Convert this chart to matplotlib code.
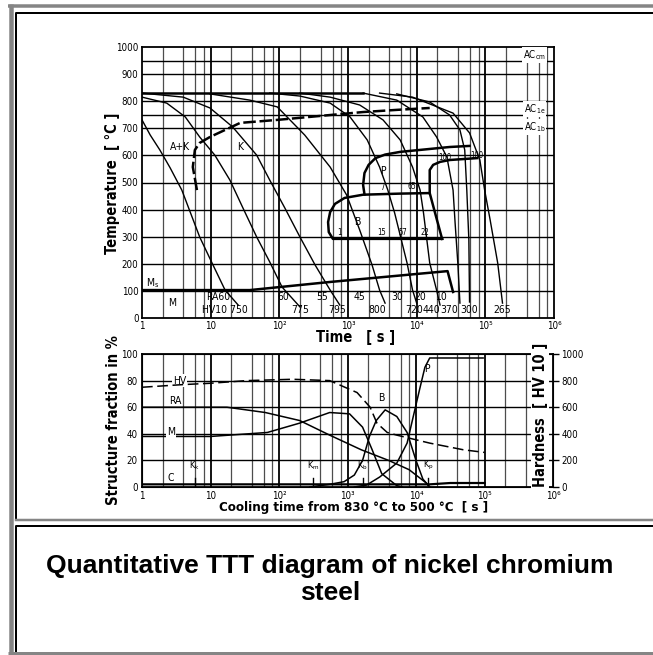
import numpy as np
import matplotlib
matplotlib.use('Agg')
import matplotlib.pyplot as plt
from matplotlib import font_manager as fm

# pick a condensed face if one is installed (the scan uses a narrow DIN-like type)
_names = {f.name for f in fm.fontManager.ttflist}
_dejavu_cond = any(f.name == 'DejaVu Sans' and 'Condensed' in f.fname for f in fm.fontManager.ttflist)
if 'Liberation Sans Narrow' in _names:
    narrow, stretch, tick_fs = ['Liberation Sans Narrow', 'DejaVu Sans'], 'normal', 8
elif _dejavu_cond:
    narrow, stretch, tick_fs = ['DejaVu Sans'], 'condensed', 7
else:
    narrow, stretch, tick_fs = ['Liberation Sans', 'DejaVu Sans'], 'normal', 7
plt.rcParams['font.family'] = narrow
plt.rcParams['font.stretch'] = stretch

# ---- upper diagram: cooling curves (log10 of time in s, temperature in C) ----
c1_logt = [0, 0.12, 0.26, 0.41, 0.58, 0.84, 1.02, 1.21, 1.40]
c1_temp = [731, 675, 620, 554, 472, 299, 203, 103, 48]
c2_logt = [0, 0.36, 0.63, 0.84, 1.06, 1.28, 1.47, 1.67, 1.86, 2.04, 2.30]
c2_temp = [815, 793, 742, 668, 601, 509, 406, 299, 207, 114, 41]
c3_logt = [0, 0.12, 0.60, 0.99, 1.32, 1.67, 1.86, 2.08, 2.30, 2.52, 2.74, 2.88]
c3_temp = [830, 827, 815, 775, 705, 601, 509, 406, 299, 196, 103, 48]
c4_logt = [0.99, 1.57, 1.97, 2.37, 2.74, 2.98, 3.17, 3.35, 3.46, 3.54]
c4_temp = [827, 804, 779, 675, 557, 454, 325, 196, 103, 55]
c5_logt = [1.86, 2.30, 2.74, 3.03, 3.28, 3.46, 3.58, 3.68, 3.86, 3.94, 4.00]
c5_temp = [830, 819, 793, 742, 657, 557, 472, 387, 203, 103, 55]
c6_logt = [2.30, 2.74, 3.17, 3.51, 3.76, 3.94, 4.05, 4.10, 4.19, 4.29, 4.34]
c6_temp = [830, 815, 786, 731, 657, 557, 472, 387, 203, 103, 48]
c7_logt = [3.22, 3.71, 4.09, 4.29, 4.44, 4.53, 4.56, 4.60, 4.63]
c7_temp = [830, 804, 742, 668, 594, 472, 350, 200, 55]
c8_logt = [3.71, 4.19, 4.48, 4.63, 4.70, 4.73, 4.76, 4.77]
c8_temp = [827, 797, 749, 694, 620, 472, 288, 59]
c9_logt = [3.46, 3.94, 4.53, 4.77, 4.92, 4.99, 5.07, 5.18, 5.25]
c9_temp = [830, 815, 756, 683, 583, 472, 362, 203, 55]

# austenitizing plateau
plateau_logt = [0, 3.22]
plateau_temp = [830, 830]

# ferrite / carbide start (dashed)
fs_logt = [0.80, 0.74, 0.77, 0.84, 0.99, 1.43, 1.97, 2.74, 3.22, 3.71, 4.19]
fs_temp = [472, 557, 620, 646, 668, 720, 731, 749, 760, 768, 775]

# bainite field
b_logt = [4.37, 2.78, 2.72, 2.71, 2.74, 2.81, 2.95, 3.22, 3.76, 4.19, 4.37]
b_temp = [292, 292, 317, 354, 391, 421, 443, 455, 459, 461, 292]

# pearlite start / finish
ps_logt = [3.24, 3.22, 3.24, 3.30, 3.40, 3.54, 3.76, 4.48, 4.77]
ps_temp = [456, 491, 535, 565, 590, 603, 613, 631, 635]
pf_logt = [4.19, 4.19, 4.24, 4.34, 4.48, 4.88]
pf_temp = [461, 546, 565, 576, 583, 590]

# martensite start
ms_logt = [0, 1.57, 2.74, 4.45, 4.53]
ms_temp = [103, 103, 133, 173, 96]

ra_labels = ['RA60', '60', '55', '45', '30', '20', '10']
ra_logt = [1.11, 2.05, 2.63, 3.16, 3.71, 4.05, 4.35]
hv_labels = ['HV10 750', '775', '795', '800', '720', '440', '370', '300', '265']
hv_label_logt = [1.20, 2.30, 2.84, 3.42, 3.96, 4.22, 4.48, 4.77, 5.25]
bain_pct = ['1', '15', '57', '22']
bain_pct_logt = [2.88, 3.49, 3.80, 4.12]
pear_pct = ['7', '65', '100', '100']
pear_pct_logt = [3.51, 3.93, 4.41, 4.88]
pear_pct_temp = [480, 487, 594, 601]

# ---- lower diagram: structure fractions (%) and hardness (HV) ----
hv_logt = [0, 0.6, 1.0, 1.53, 2.2, 2.74, 3.14, 3.33, 3.43, 3.58, 3.72, 4.2, 4.69, 5.0]
hv_vals = [750, 770, 780, 800, 810, 800, 710, 600, 480, 410, 390, 330, 280, 260]
ra_frac_logt = [0, 1.24, 1.8, 2.3, 2.74, 3.2, 3.6, 3.9, 4.15, 4.2]
ra_frac = [60, 60, 56, 50, 39, 28, 20, 13, 3, 0]
m_logt = [0, 1.0, 1.83, 2.3, 2.74, 3.03, 3.22, 3.36, 3.5, 3.72, 3.8]
m_frac = [38, 38, 41, 48, 56, 55, 45, 28, 10, 1, 0]
b_frac_logt = [2.45, 2.74, 2.95, 3.1, 3.22, 3.32, 3.42, 3.55, 3.72, 3.87, 4.0, 4.1, 4.2]
b_frac = [0, 2, 4, 9, 20, 38, 50, 58, 53, 41, 20, 6, 0]
p_logt = [3.1, 3.28, 3.47, 3.72, 3.87, 3.96, 4.06, 4.13, 4.2, 4.98]
p_frac = [0, 1.5, 7.5, 18, 33, 53, 75, 90, 97, 97]
c_logt = [0, 4.2, 4.5, 5.0]
c_frac = [2, 2, 3, 3]
k_names = ['K$_\\mathregular{k}$', 'K$_\\mathregular{m}$', "K$_\\mathregular{b}$'", 'K$_\\mathregular{p}$']
k_logt = [0.77, 2.5, 3.23, 4.18]

decade_labels = ['1', '10', '10²', '10³', '10⁴', '10⁵', '10⁶']

W, H = 653, 655
px = 72 / 100


def fbox(l, t, r, b):
    return [l / W, 1 - b / H, (r - l) / W, (b - t) / H]


def tt(v):
    return np.power(10.0, np.asarray(v, dtype=float))


def log_grid(a):
    for d in range(6):
        for m in (2, 4, 6, 8):
            a.axvline(m * 10 ** d, color='0.3', lw=0.9, zorder=1)
    for d in range(1, 6):
        a.axvline(10 ** d, color='black', lw=1.3, zorder=1)


fig = plt.figure(figsize=(6.53, 6.55), dpi=100)

# page frame
bg = fig.add_axes([0, 0, 1, 1])
bg.set_xlim(0, W)
bg.set_ylim(H, 0)
bg.axis('off')
gray = '#858585'
bg.plot([10.5, 10.5], [3.5, 654], color=gray, lw=4.5 * px, solid_capstyle='butt')
bg.plot([8, 653], [5.5, 5.5], color=gray, lw=3.5 * px, solid_capstyle='butt')
bg.plot([8, 653], [652.5, 652.5], color=gray, lw=3 * px, solid_capstyle='butt')
bg.plot([16, 16, 653], [519, 12.5, 12.5], color='black', lw=2 * px)
bg.plot([16, 653], [519.5, 519.5], color=gray, lw=2.5 * px)
bg.plot([16, 16, 653], [651, 525.5, 525.5], color='black', lw=2 * px)

# ---------------- upper diagram ----------------
ax = fig.add_axes(fbox(142, 47, 554, 318))
ax.set_xscale('log')
ax.set_xlim(1, 1e6)
ax.set_ylim(0, 1000)
log_grid(ax)
for T in list(range(100, 1000, 100)) + [950, 750]:
    ax.axhline(T, color='black', lw=1.0, zorder=1)
ax.set_xticks(tt(range(7)))
ax.set_xticklabels(decade_labels)
ax.minorticks_off()
ax.set_yticks(range(0, 1001, 100))
ax.tick_params(length=0, labelsize=tick_fs, pad=2.5)
for s in ax.spines.values():
    s.set_linewidth(1.3)

for lg, tp in [(c1_logt, c1_temp), (c2_logt, c2_temp), (c3_logt, c3_temp),
               (c4_logt, c4_temp), (c5_logt, c5_temp), (c6_logt, c6_temp),
               (c7_logt, c7_temp), (c8_logt, c8_temp), (c9_logt, c9_temp)]:
    ax.plot(tt(lg), tp, color='black', lw=1.0, zorder=3)

ax.plot(tt(plateau_logt), plateau_temp, color='black', lw=1.8, zorder=3)
ax.plot(tt(fs_logt), fs_temp, color='black', lw=1.8, ls=(0, (5, 1.5)), zorder=3)
ax.plot(tt(b_logt), b_temp, color='black', lw=1.8, zorder=3)
ax.plot(tt(ps_logt), ps_temp, color='black', lw=1.8, zorder=3)
ax.plot(tt(pf_logt), pf_temp, color='black', lw=1.8, zorder=3)
ax.plot(tt(ms_logt), ms_temp, color='black', lw=1.8, zorder=3)

fs = 7.5
ax.text(tt(0.55), 631, 'A+K', fontsize=fs, ha='center', va='center')
ax.text(tt(1.43), 631, 'K', fontsize=fs, ha='center', va='center')
ax.text(tt(3.51), 542, 'P', fontsize=fs, ha='center', va='center')
ax.text(tt(3.13), 354, 'B', fontsize=fs, ha='center', va='center')
ax.text(tt(0.44), 55, 'M', fontsize=fs, ha='center', va='center')
ax.text(tt(0.16), 129, 'M$_\\mathregular{s}$', fontsize=fs, ha='center', va='center')
for lab, lg in zip(ra_labels, ra_logt):
    ax.text(tt(lg), 77, lab, fontsize=fs, ha='center', va='center')
for lab, lg in zip(hv_labels, hv_label_logt):
    ax.text(tt(lg), 30, lab, fontsize=fs, ha='center', va='center')
for lab, lg in zip(bain_pct, bain_pct_logt):
    ax.text(tt(lg), 314, lab, fontsize=5.5, ha='center', va='center')
for lab, lg, tp in zip(pear_pct, pear_pct_logt, pear_pct_temp):
    ax.text(tt(lg), tp, lab, fontsize=5.5, ha='center', va='center')
for lab, tp in [('AC$_\\mathregular{cm}$', 970), ('AC$_\\mathregular{1e}$', 771),
                ('AC$_\\mathregular{1b}$', 705)]:
    ax.text(tt(5.72), tp, lab, fontsize=7, ha='center', va='center', zorder=4,
            bbox=dict(facecolor='white', edgecolor='none', pad=0.6))

fig.text(113 / W, 1 - 183 / H, 'Temperature  [ °C ]', rotation=90, fontsize=10.5,
         fontweight='bold', ha='center', va='center')
fig.text(356 / W, 1 - 338 / H, 'Time   [ s ]', fontsize=10.5, fontweight='bold',
         ha='center', va='center')

# ---------------- lower diagram ----------------
bx = fig.add_axes(fbox(142, 354, 553, 487))
bx.set_xscale('log')
bx.set_xlim(1, 1e6)
bx.set_ylim(0, 100)
log_grid(bx)
for p in [20, 40, 60, 80]:
    bx.axhline(p, color='black', lw=1.0, zorder=1)
bx.set_xticks(tt(range(7)))
bx.set_xticklabels(decade_labels)
bx.minorticks_off()
bx.set_yticks(range(0, 101, 20))
bx.tick_params(length=0, labelsize=tick_fs, pad=3)
for s in bx.spines.values():
    s.set_linewidth(1.3)

hx = bx.twinx()
hx.set_ylim(0, 1000)
hx.set_yticks(range(0, 1001, 200))
hx.tick_params(length=4, width=1.0, labelsize=tick_fs, pad=2)
hx.set_xlim(1, 1e6)

hx.plot(tt(hv_logt), hv_vals, color='black', lw=1.1, ls=(0, (7, 3)), zorder=3)
bx.plot(tt(ra_frac_logt), ra_frac, color='black', lw=1.1, zorder=3)
bx.plot(tt(m_logt), m_frac, color='black', lw=1.1, zorder=3)
bx.plot(tt(b_frac_logt), b_frac, color='black', lw=1.1, zorder=3)
bx.plot(tt(p_logt), p_frac, color='black', lw=1.1, zorder=3)
bx.plot(tt(c_logt), c_frac, color='black', lw=1.6, zorder=3)

bx.text(tt(0.55), 80, 'HV', fontsize=fs, ha='center', va='center', zorder=4,
        bbox=dict(facecolor='white', edgecolor='none', pad=0.8))
bx.text(tt(0.48), 65, 'RA', fontsize=fs, ha='center', va='center')
bx.text(tt(0.42), 41, 'M', fontsize=fs, ha='center', va='center', zorder=4,
        bbox=dict(facecolor='white', edgecolor='none', pad=0.8))
bx.text(tt(0.42), 7, 'C', fontsize=fs, ha='center', va='center')
bx.text(tt(3.5), 67, 'B', fontsize=fs, ha='center', va='center')
bx.text(tt(4.16), 89, 'P', fontsize=fs, ha='center', va='center')
for lab, lg in zip(k_names, k_logt):
    bx.text(tt(lg), 11, lab, fontsize=6.5, ha='center', va='bottom')
    bx.plot(tt([lg, lg]), [0, 7], color='black', lw=1.0, zorder=3)

fig.text(113 / W, 1 - 420 / H, 'Structure fraction in %', rotation=90, fontsize=10.5,
         fontweight='bold', ha='center', va='center')
fig.text(540 / W, 1 - 415 / H, 'Hardness  [ HV 10 ]', rotation=90, fontsize=10.5,
         fontweight='bold', ha='center', va='center',
         bbox=dict(facecolor='white', edgecolor='none', pad=1))
fig.text(354 / W, 1 - 508 / H, 'Cooling time from 830 °C to 500 °C  [ s ]', fontsize=9.5,
         fontweight='bold', ha='center', va='center')

# caption
fig.text(330 / W, 1 - 566 / H, 'Quantitative TTT diagram of nickel chromium', fontsize=19,
         fontweight='bold', family='Liberation Sans', stretch='normal', ha='center', va='center')
fig.text(330 / W, 1 - 593 / H, 'steel', fontsize=19,
         fontweight='bold', family='Liberation Sans', stretch='normal', ha='center', va='center')

fig.savefig('out.png', dpi=100)
